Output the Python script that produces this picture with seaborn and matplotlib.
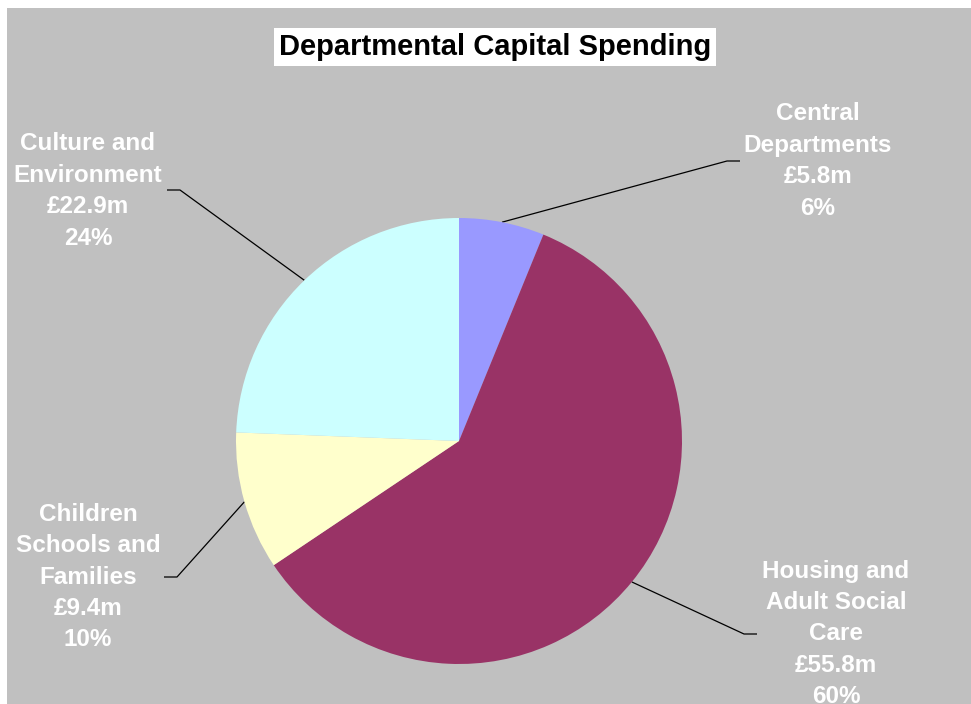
import numpy as np
import matplotlib
matplotlib.use("Agg")
import matplotlib.pyplot as plt
from matplotlib.patches import Rectangle
import seaborn as sns

sns.set_theme(style="white")
plt.rcParams["font.family"] = ["Liberation Sans", "DejaVu Sans"]

# Spending by department (£m), drawn clockwise from 12 o'clock
departments = ["Central\nDepartments", "Housing and\nAdult Social\nCare",
               "Children\nSchools and\nFamilies", "Culture and\nEnvironment"]
spend_m = [5.8, 55.8, 9.4, 22.9]
share_pct = [6, 60, 10, 24]
slice_colors = sns.color_palette(["#9999FF", "#993366", "#FFFFCC", "#CCFFFF"])

W, H = 971, 704
fig = plt.figure(figsize=(W / 100, H / 100), dpi=100, facecolor="white")

# Overlay axes in pixel coordinates (origin top-left) for background and labels
bg = fig.add_axes([0, 0, 1, 1])
bg.set_xlim(0, W)
bg.set_ylim(H, 0)
bg.axis("off")
bg.add_patch(Rectangle((7, 8), W - 7, H - 8, facecolor="#C0C0C0", edgecolor="none"))

# Title in a white box
bg.text(495, 47, "Departmental Capital Spending", ha="center", va="center",
        fontsize=21, fontweight="bold", color="black",
        bbox=dict(facecolor="white", edgecolor="none", pad=3.5))

# Pie axes: centre (459, 441), radius 223 px
cx, cy, r = 459, 441, 223
ax = fig.add_axes([(cx - r) / W, (H - cy - r) / H, 2 * r / W, 2 * r / H])
ax.axis("off")
ax.pie(spend_m, colors=slice_colors, startangle=90, counterclock=False,
       radius=1, wedgeprops=dict(linewidth=0))
ax.set_xlim(-1, 1)
ax.set_ylim(-1, 1)
ax.set_aspect("equal")

# Label placement: text centre, elbow of the leader line, and side of the tick
label_pos = [(818, 161), (836, 634), (88, 577), (88, 191)]
elbows = [(727, 161), (744, 634), (177, 577), (180, 190)]
tick_dir = [1, 1, -1, -1]

total = sum(spend_m)
start = 0.0
for name, val, pct, (tx, ty), (ex, ey), d in zip(departments, spend_m, share_pct,
                                                 label_pos, elbows, tick_dir):
    mid = start + val / total * 360 / 2
    start += val / total * 360
    th = np.deg2rad(mid)
    px, py = cx + r * np.sin(th), cy - r * np.cos(th)
    bg.plot([px, ex, ex + 13 * d], [py, ey, ey], color="black", lw=0.9,
            solid_capstyle="butt")
    bg.text(tx, ty, f"{name}\n£{val:.1f}m\n{pct}%", ha="center", va="center",
            fontsize=17.5, fontweight="bold", color="white", linespacing=1.47)

fig.savefig("out.png", dpi=100, facecolor="white")
